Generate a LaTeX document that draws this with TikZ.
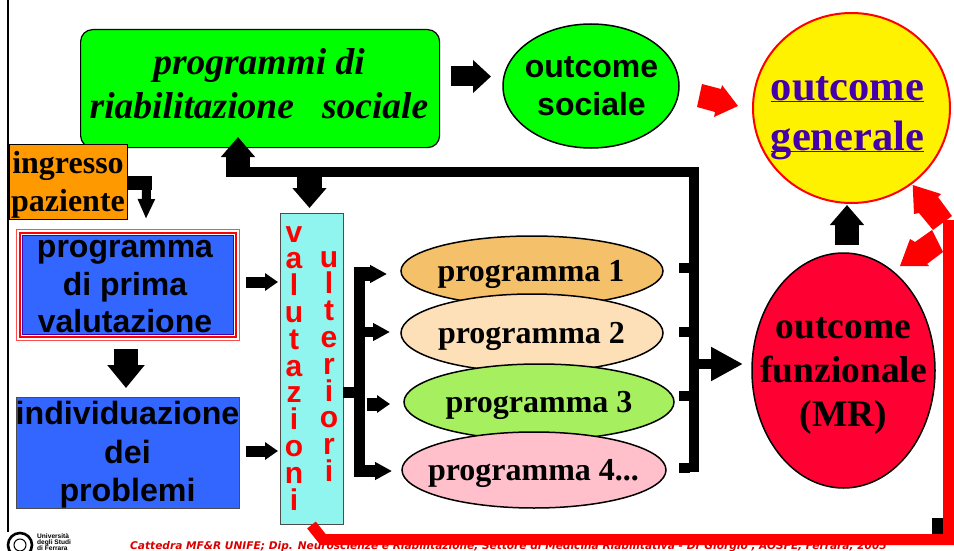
\documentclass[tikz,border=0pt]{standalone}
\usepackage{fontspec}
\setmainfont{Liberation Serif}
\setsansfont{Liberation Sans}
\newfontfamily\footfont{DejaVu Sans}
\usetikzlibrary{arrows.meta,shapes.geometric,calc,backgrounds}
\definecolor{bluebox}{HTML}{3366FF}
\definecolor{cyanbox}{HTML}{8FF5EE}
\definecolor{orangebox}{HTML}{FF9900}
\definecolor{violettext}{HTML}{4400AA}
\definecolor{redell}{HTML}{FF0033}
\definecolor{pa}{HTML}{F5C06A}
\definecolor{pb}{HTML}{FDE0B8}
\definecolor{pc}{HTML}{A6F060}
\definecolor{pd}{HTML}{FFC0CB}
\newcommand{\fs}[1]{\fontsize{#1}{#1}\selectfont}
\newcommand{\ulsm}[1]{\underline{\smash{#1}}}
\tikzset{
  x=1pt,y=-1pt,
  ell/.style={ellipse,draw=black,line width=1.5pt,inner sep=0pt},
  txt/.style={inner sep=0pt,align=center},
  prog/.style={txt,font=\rmfamily\bfseries\fs{32}},
  arr/.style n args={3}{draw=black,line width=#1,-{Triangle[length=#2,width=#3]}},
  letters/.style={font=\sffamily\bfseries\fontsize{30}{26.8}\selectfont,text=red,align=center,inner sep=0pt},
}
\begin{document}
\begin{tikzpicture}
\useasboundingbox (0,0) rectangle (954,551);
\fill[white] (0,0) rectangle (954,551);
% frame line
\coordinate (ftop) at (8,0); \coordinate (fbot) at (8,532);
\draw[line width=2.2pt] (ftop) -- (fbot);
% footer
\node[anchor=base west,inner sep=0pt,text=red!85!black,font=\footfont\bfseries\itshape\fs{10.6}] (foot) at (130,549) {Cattedra MF\&R UNIFE; Dip. Neuroscienze e Riabilitazione, Settore di Medicina Riabilitativa - Dr Giorgio , AOSFE, Ferrara, 2005};
% logo
\node[circle,draw=black,line width=2.6pt,minimum size=24pt,inner sep=0pt] (logo) at (20,545) {};
\node[circle,draw=black,line width=1pt,minimum size=12pt,inner sep=0pt] (logoin) at (20,545) {};
\node[anchor=west,inner sep=0pt,align=left,font=\sffamily\bfseries\fontsize{6.6}{6.2}\selectfont] (logot) at (37,542) {Università\\degli Studi\\di Ferrara};
% nodes
\node[draw=black,fill=green,line width=1.2pt,rounded corners=12pt,minimum width=359pt,minimum height=118pt,anchor=north west,inner sep=0pt] (riab) at (80,29) {};
\node[txt,font=\rmfamily\bfseries\itshape\fontsize{37.5}{44}\selectfont] (riabt) at (259,84) {programmi di\\riabilitazione\ \ \ sociale};
\node[ell,fill=green,minimum width=176pt,minimum height=124pt] (osoc) at (591,86) {};
\node[txt,font=\sffamily\bfseries\fontsize{32}{38}\selectfont] (osoct) at (591.5,86) {outcome\\sociale};
\node[ellipse,draw=red,line width=2pt,fill=yellow,minimum width=197pt,minimum height=190pt,inner sep=0pt] (ogen) at (851.5,108) {};
\node[txt,text=violettext,font=\rmfamily\bfseries\fontsize{42.5}{50}\selectfont] (ogent) at (847.5,126) {\ulsm{outcome}\\\ulsm{generale}};
\node[draw=black,fill=orangebox,line width=1pt,minimum width=118pt,minimum height=75pt,anchor=north west,inner sep=0pt] (ingr) at (9,144) {};
\node[txt,font=\rmfamily\bfseries\fontsize{32}{38}\selectfont] (ingrt) at (68,185) {ingresso\\paziente};
% programma di prima valutazione, nested border
\node[draw=red!60!pink,fill=white,line width=.8pt,minimum width=223pt,minimum height=111pt,anchor=north west,inner sep=0pt] (primaout) at (16,229) {};
\node[draw=red,fill=white,line width=2.5pt,minimum width=216pt,minimum height=104pt,inner sep=0pt] (primamid) at (primaout.center) {};
\node[draw=violettext,fill=bluebox,line width=1pt,minimum width=211pt,minimum height=99pt,inner sep=0pt] (primain) at (primaout.center) {};
\node[txt,font=\sffamily\bfseries\fontsize{32}{37.5}\selectfont] (prima) at (125,287) {programma\\di prima\\valutazione};
\node[draw=black!70,fill=bluebox,line width=1pt,minimum width=223pt,minimum height=111pt,inner sep=0pt,anchor=north west] (indiv) at (16,397) {};
\node[txt,font=\sffamily\bfseries\fontsize{32.2}{38.5}\selectfont] (indivt) at (127.5,455) {individuazione\\dei\\problemi};
\node[draw=black!70,fill=cyanbox,line width=1pt,minimum width=63pt,minimum height=311pt,anchor=north west,inner sep=0pt] (valut) at (280,213) {};
\node[letters,anchor=north] (vcol) at (294,226) {v\\a\\l\\u\\t\\a\\z\\i\\o\\n\\i};
\node[letters,anchor=north] (ucol) at (329,251) {u\\l\\t\\e\\r\\i\\o\\r\\i};
\node[ell,fill=pa,minimum width=262pt,minimum height=70pt] (p1) at (532,271) {};
\node[prog] (p1t) at (531,274) {programma 1};
\node[ell,fill=pb,minimum width=262pt,minimum height=78pt] (p2) at (532,333) {};
\node[prog] (p2t) at (531.5,336) {programma 2};
\node[ell,fill=pc,minimum width=270pt,minimum height=76pt] (p3) at (539,402) {};
\node[prog] (p3t) at (539,405) {programma 3};
\node[ell,fill=pd,minimum width=264pt,minimum height=76pt] (p4) at (534,470) {};
\node[prog] (p4t) at (533.5,473) {programma 4...};
\node[ell,fill=redell,minimum width=183pt,minimum height=235pt] (ofun) at (843.5,370.5) {};
\node[txt,font=\rmfamily\bfseries\fontsize{37.5}{44}\selectfont] (ofunt) at (843.5,376) {outcome\\funzionale\\(MR)};
% black connectors
\draw[arr={20pt}{18pt}{32pt}] (451,76.5) -- (491,76.5);
\coordinate (in1) at (127,183);
\draw[line width=14pt] (in1) -- (152,183);
\draw[arr={9pt}{20pt}{16pt}] (146.5,190) -- (146,219);
\draw[arr={24pt}{23pt}{36pt}] (126,349) -- (126,388);
\draw[arr={11pt}{13pt}{17pt}] (246,282) -- (278,282);
\draw[arr={11pt}{13pt}{17pt}] (246,451) -- (278,451);
% upper feedback
\coordinate (topr) at (694,172); \coordinate (botr) at (694,472);
\draw[line width=10pt,line cap=butt] (231,172) -- (topr) -- (botr);
\draw[arr={24pt}{20pt}{33pt}] (238,177) -- (238,137);
\draw[arr={25pt}{20pt}{33pt}] (309.5,172) -- (309.5,208);
\foreach \yy in {268,332,396,468} \draw[line width=10pt] (679,\yy) -- (690,\yy);
\draw[arr={10pt}{32pt}{32pt}] (699,364) -- (743,364);
\draw[arr={24pt}{20pt}{33pt}] (847,245) -- (847,205);
% bracket
\draw[line width=11pt] (343,392.5) -- (359,392.5);
\draw[line width=11pt] (359.5,267) -- (359.5,477);
\draw[arr={14pt}{17pt}{17pt}] (354,274) -- (387,274);
\draw[arr={10pt}{17pt}{17pt}] (360,332) -- (390,332);
\draw[arr={13pt}{13pt}{17pt}] (367,404) -- (390,404);
\draw[arr={12pt}{17pt}{17pt}] (354,471) -- (392,471);
% red
\fill[red] (702,84) -- (697,107) -- (715,112) -- (714,117) -- (738,106) -- (722,85) -- (721,89) -- cycle;
\draw[draw=red,line width=11pt] (948.5,220) -- (948.5,539.5) -- (323,539.5) -- (311.5,525);
\fill[red] (912.7,185) -- (941,194) -- (938,197) -- (952,216) -- (933,230) -- (919,213) -- (914,214) -- cycle;
\fill[red] (900,266) -- (910,239) -- (915,242) -- (932,230) -- (943,252) -- (927,264) -- (929,266) -- cycle;
\fill (932,518) rectangle (943,534);
\end{tikzpicture}
\end{document}
